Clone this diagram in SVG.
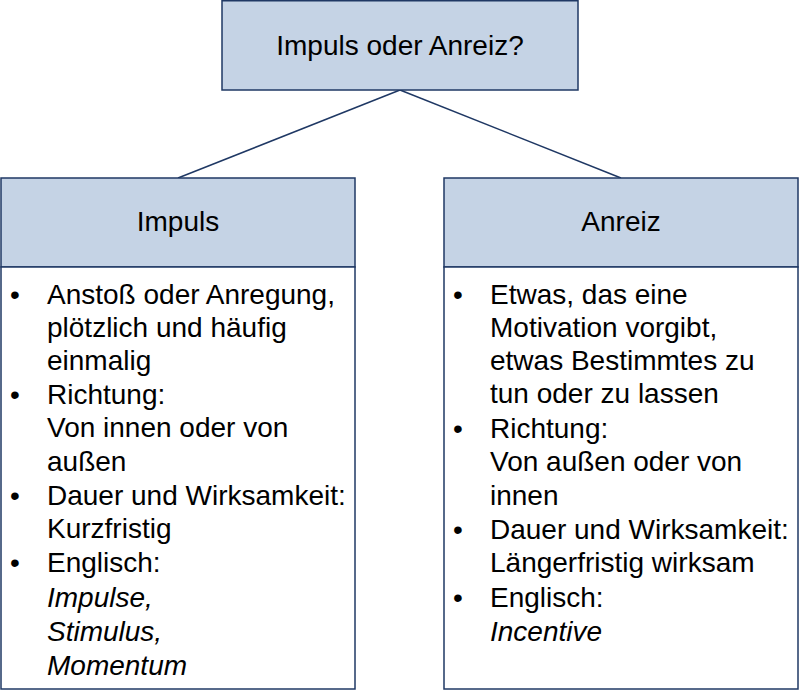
<svg xmlns="http://www.w3.org/2000/svg" width="800" height="690" viewBox="0 0 800 690">
<style>
.h{fill:#c5d3e5;stroke:#1f3864;stroke-width:1.5}
.b{fill:#fff;stroke:#1f3864;stroke-width:1.5}
text{font-family:"Liberation Sans",Arial,sans-serif;font-size:28px;fill:#000}
.c{text-anchor:middle}
.i{font-style:italic}
line{stroke:#1f3864;stroke-width:1.5}
</style>
<rect width="800" height="690" fill="#fff"/>
<g id="connectors">
<line x1="400" y1="90" x2="178" y2="178"/>
<line x1="400" y1="90" x2="621" y2="178"/>
</g>
<g id="top">
<rect class="h" x="222" y="0.75" width="356" height="89.25"/>
<text class="c" x="400" y="55">Impuls oder Anreiz?</text>
</g>
<g id="impuls">
<rect class="h" x="1" y="178" width="354" height="89"/>
<text class="c" x="178" y="231">Impuls</text>
<rect class="b" x="1" y="267" width="354" height="422"/>
<text x="10" y="304">•</text><text x="47" y="304">Anstoß oder Anregung,</text>
<text x="47" y="337">plötzlich und häufig</text>
<text x="47" y="370">einmalig</text>
<text x="10" y="404">•</text><text x="47" y="404">Richtung:</text>
<text x="47" y="437">Von innen oder von</text>
<text x="47" y="471">außen</text>
<text x="10" y="505">•</text><text x="47" y="505">Dauer und Wirksamkeit:</text>
<text x="47" y="538">Kurzfristig</text>
<text x="10" y="572">•</text><text x="47" y="572">Englisch:</text>
<text class="i" x="47" y="607">Impulse,</text>
<text class="i" x="47" y="641">Stimulus,</text>
<text class="i" x="47" y="675">Momentum</text>
</g>
<g id="anreiz">
<rect class="h" x="444" y="178" width="354" height="89"/>
<text class="c" x="621" y="231">Anreiz</text>
<rect class="b" x="444" y="267" width="354" height="422"/>
<text x="453" y="304">•</text><text x="490" y="304">Etwas, das eine</text>
<text x="490" y="337">Motivation vorgibt,</text>
<text x="490" y="370">etwas Bestimmtes zu</text>
<text x="490" y="403">tun oder zu lassen</text>
<text x="453" y="438">•</text><text x="490" y="438">Richtung:</text>
<text x="490" y="471">Von außen oder von</text>
<text x="490" y="505">innen</text>
<text x="453" y="539">•</text><text x="490" y="539">Dauer und Wirksamkeit:</text>
<text x="490" y="572">Längerfristig wirksam</text>
<text x="453" y="607">•</text><text x="490" y="607">Englisch:</text>
<text class="i" x="490" y="641">Incentive</text>
</g>
</svg>
